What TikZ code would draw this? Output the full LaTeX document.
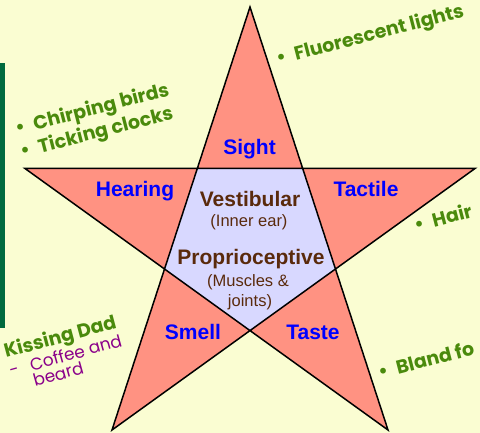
\documentclass[tikz,border=0pt]{standalone}
\usepackage{fontspec}
\setmainfont{Liberation Sans}
\newfontfamily\manina{Poppins}
\definecolor{sfondo}{HTML}{FAFDD2}
\definecolor{salmone}{HTML}{FF9282}
\definecolor{lavanda}{HTML}{D8D8FF}
\definecolor{marrone}{HTML}{5A2A0C}
\definecolor{verdino}{HTML}{4A8A0C}
\definecolor{verdone}{HTML}{006A3E}
\definecolor{viola}{HTML}{8A008A}
\begin{document}
\begin{tikzpicture}[
			x=1pt, y=-1pt,
			linea/.style={line width=1.5pt, line join=miter, black},
			senso/.style={anchor=base, text=blue,
				font=\bfseries\fontsize{21}{25}\selectfont},
			interno/.style={anchor=base, text=marrone,
				font=\bfseries\fontsize{21}{25}\selectfont},
			sotto/.style={anchor=base, text=marrone,
				font=\fontsize{16.5}{19.5}\selectfont},
			nota/.style={anchor=base west, rotate=14.5, inner sep=0pt,
				text=verdino, font=\manina\bfseries\fontsize{19}{22}\selectfont},
			notina/.style={anchor=base west, rotate=15.5, inner sep=0pt,
				text=viola, font=\manina\fontsize{17}{20}\selectfont},
			]
			\useasboundingbox (0,0) rectangle (480,433);
			\fill[sfondo] (0,0) rectangle (480,433);
			\clip (0,0) rectangle (480,433);
			
			% barra laterale
			\fill[verdone] (0,63) rectangle (5,328);
			
			% punte della stella
			\coordinate (T)  at (250,7);
			\coordinate (L)  at (25,168.5);
			\coordinate (R)  at (475,168.5);
			\coordinate (BL) at (112,430);
			\coordinate (BR) at (388,430);
			
			% pentagono interno
			\coordinate (p1) at (intersection of T--BL and L--R);
			\coordinate (p2) at (intersection of T--BR and L--R);
			\coordinate (p3) at (intersection of T--BR and R--BL);
			\coordinate (p4) at (intersection of L--BR and R--BL);
			\coordinate (p5) at (intersection of T--BL and L--BR);
			
			\fill[salmone] (T)--(BL)--(R)--(L)--(BR)--cycle;
			\fill[lavanda] (p1)--(p2)--(p3)--(p4)--(p5)--cycle;
			\draw[linea] (T)--(BL)--(R)--(L)--(BR)--cycle;
			
			% sensi
			\node[senso] (sight)   at (249.5,155) {Sight};
			\node[senso] (hearing) at (135,197)   {Hearing};
			\node[senso] (tactile) at (366,197)   {Tactile};
			\node[senso] (smell)   at (193,340)   {Smell};
			\node[senso] (taste)   at (313,340)   {Taste};
			
			% centro
			\node[interno] (vest)     at (250,207) {Vestibular};
			\node[sotto]   (vestsub)  at (249,227) {(Inner ear)};
			\node[interno] (prop)     at (251,265) {Proprioceptive};
			\node[sotto]   (propsub)  at (248,287) {(Muscles \&};
			\node[sotto]   (propsub2) at (250,306) {joints)};
			
			% esempi
			\node[nota] (uditi)  at (17,135)  {\textbullet\hspace{9pt}Chirping birds};
			\node[nota] (orolo)  at (22,158)  {\textbullet\hspace{9pt}Ticking clocks};
			\node[nota] (luci)   at (278,65)  {\textbullet\hspace{9pt}Fluorescent lights};
			\node[nota] (capel)  at (416,232) {\textbullet\hspace{9pt}Hair};
			\node[nota] (cibo)   at (380,379) {\textbullet\hspace{9pt}Bland fo};
			\node[nota, rotate=0.5] (bacio) at (6,358) {Kissing Dad};
			\node[notina] (caffe) at (11,377) {-\hspace{12pt}Coffee and};
			\node[notina] (barba) at (35,387) {beard};
			
		\end{tikzpicture}
\end{document}
